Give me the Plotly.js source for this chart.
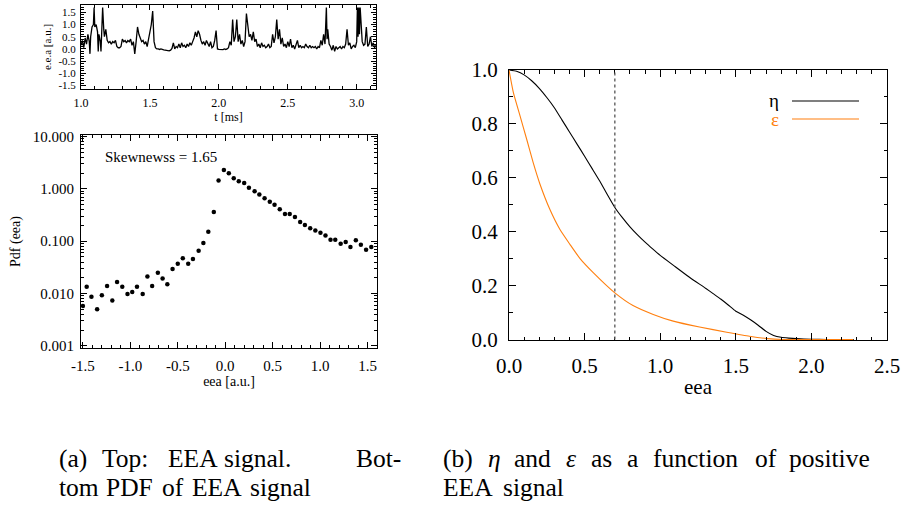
<!DOCTYPE html>
<html>
<head>
<meta charset="utf-8">
<script src="https://cdn.plot.ly/plotly-3.0.1.min.js"></script>
<style>
html,body{margin:0;padding:0;background:#fff;}
#chart{width:901px;height:508px;}
</style>
</head>
<body>
<div id="chart"></div>
<script>
// ---------- Top panel: EEA time signal ----------
const sigT = [1.00,1.01,1.02,1.03,1.04,1.05,1.06,1.065,1.07,1.08,1.09,1.095,1.10,1.11,1.12,1.125,1.13,1.14,1.145,1.15,1.157,1.165,1.17,1.18,1.19,
1.20,1.21,1.22,1.23,1.24,1.25,1.26,1.27,1.28,1.29,1.30,1.31,1.32,1.33,1.34,1.35,1.36,1.37,1.38,1.39,1.40,1.41,1.42,1.43,1.44,1.45,1.46,1.47,1.48,1.49,
1.50,1.51,1.52,1.53,1.54,1.55,1.56,1.57,1.58,1.59,1.60,1.61,1.62,1.63,1.64,1.65,1.66,1.67,1.68,1.69,1.70,1.71,1.72,1.73,1.74,1.75,1.76,1.77,1.78,1.79,
1.80,1.81,1.82,1.83,1.84,1.85,1.86,1.87,1.88,1.89,1.90,1.91,1.92,1.93,1.94,1.95,1.96,1.97,1.98,1.99,
2.00,2.01,2.02,2.03,2.04,2.05,2.06,2.07,2.08,2.09,2.10,2.11,2.12,2.13,2.14,2.15,2.16,2.17,2.18,2.19,
2.20,2.21,2.22,2.23,2.24,2.25,2.26,2.27,2.28,2.29,2.30,2.31,2.32,2.33,2.34,2.35,2.36,2.37,2.38,2.39,
2.40,2.41,2.42,2.43,2.44,2.45,2.46,2.47,2.48,2.49,2.50,2.51,2.52,2.53,2.54,2.55,2.56,2.57,2.58,2.59,
2.60,2.61,2.62,2.63,2.64,2.65,2.66,2.67,2.68,2.69,2.70,2.71,2.72,2.73,2.74,2.75,2.76,2.77,2.78,2.785,2.79,
2.80,2.81,2.82,2.83,2.84,2.85,2.86,2.87,2.88,2.89,2.90,2.91,2.92,2.93,2.94,2.95,2.96,2.97,2.98,2.99,
3.00,3.005,3.01,3.015,3.02,3.025,3.03,3.04,3.05,3.06,3.07,3.08,3.09,3.10,3.11,3.12,3.13,3.14];
const sigV = [0.15,0.35,0.05,0.45,0.20,0.60,0.30,-0.20,0.50,0.90,1.00,1.70,0.90,1.00,0.70,-0.10,0.60,0.30,-0.10,0.50,1.70,0.80,0.50,0.80,0.35,
0.25,0.30,0.20,0.30,0.25,0.35,0.10,0.05,0.05,0.10,0.40,0.30,0.35,0.25,0.35,0.30,0.40,0.15,0.30,-0.20,0.30,0.90,0.60,0.45,0.30,0.35,0.20,0.30,0.10,0.40,
0.70,1.00,1.55,0.30,0.05,0.00,0.00,-0.02,0.00,-0.03,-0.04,-0.05,-0.06,-0.04,-0.08,-0.05,0.02,0.25,0.00,0.10,0.05,0.20,0.05,0.25,0.10,0.15,0.05,0.20,0.10,0.25,
0.15,0.30,0.45,0.70,0.50,0.75,0.60,0.35,0.20,0.30,0.15,0.35,0.20,0.10,0.30,0.05,0.10,0.35,0.75,0.00,
-0.02,-0.03,-0.02,-0.03,0.00,-0.02,0.00,0.05,0.30,0.15,1.20,0.30,0.50,1.20,0.30,0.60,0.20,0.35,0.10,0.30,
1.45,0.80,0.50,0.60,0.35,0.70,0.30,0.40,0.10,0.20,0.05,0.25,0.10,0.15,0.05,0.10,0.20,0.05,0.10,0.60,
0.25,0.50,1.20,0.40,0.80,0.20,0.45,0.10,0.20,0.05,0.30,0.10,0.40,0.05,0.15,0.00,0.20,0.35,0.05,0.15,
0.05,0.10,0.05,0.20,0.10,0.05,0.15,0.05,0.10,0.05,0.10,0.00,0.10,0.05,0.35,0.15,0.60,0.20,1.70,0.40,0.80,
0.20,0.10,-0.05,0.15,-0.10,0.10,0.00,0.05,0.10,0.00,0.10,0.05,0.20,0.80,0.15,0.25,0.00,0.10,0.15,0.05,
0.30,1.70,0.50,1.70,0.60,1.70,1.00,0.30,0.15,0.20,0.90,0.10,0.20,0.50,0.10,0.25,0.05,0.15];
const sigYTickVals = [-1.5,-1.0,-0.5,0.0,0.5,1.0,1.5];
const sigYTickText = ["-1.5","-1.0","-0.5","0.0","0.5","1.0","1.5"];
const sigXTickVals = [1.0,1.5,2.0,2.5,3.0];
const sigXTickText = ["1.0","1.5","2.0","2.5","3.0"];

// ---------- Bottom-left panel: PDF of EEA ----------
const pdfX = [-1.50,-1.46,-1.41,-1.35,-1.30,-1.245,-1.19,-1.14,-1.085,-1.03,-0.98,-0.93,-0.87,-0.82,-0.77,-0.71,-0.66,-0.61,-0.555,-0.50,-0.447,-0.39,-0.34,-0.28,-0.23,-0.178,-0.12,-0.07,-0.014,
0.038,0.09,0.143,0.20,0.25,0.31,0.36,0.415,0.47,0.52,0.575,0.63,0.68,0.735,0.79,0.84,0.896,0.95,1.004,1.057,1.11,1.16,1.217,1.27,1.32,1.377,1.43,1.485,1.54];
const pdfY = [0.0058,0.0135,0.0087,0.0050,0.0093,0.0140,0.0074,0.0166,0.0135,0.0098,0.0107,0.0135,0.0098,0.0213,0.0140,0.0250,0.0195,0.0150,0.0295,0.0370,0.0475,0.0370,0.0460,0.0660,0.0930,0.152,0.36,1.45,2.30,
2.00,1.60,1.40,1.30,1.05,0.90,0.78,0.66,0.57,0.50,0.41,0.33,0.33,0.29,0.234,0.205,0.177,0.160,0.145,0.129,0.107,0.107,0.090,0.097,0.078,0.104,0.086,0.069,0.078];
const skewText = "Skewnewss = 1.65";
const pdfYTickVals = [0.001,0.01,0.1,1,10];
const pdfYTickText = ["0.001","0.010","0.100","1.000","10.000"];
const pdfXTickVals = [-1.5,-1.0,-0.5,0.0,0.5,1.0,1.5];
const pdfXTickText = ["-1.5","-1.0","-0.5","0.0","0.5","1.0","1.5"];

// ---------- Right panel: eta and epsilon ----------
const etaX = [0,0.05,0.1,0.15,0.2,0.25,0.3,0.35,0.4,0.45,0.5,0.55,0.6,0.65,0.7,0.75,0.8,0.85,0.9,0.95,1.0,1.1,1.2,1.3,1.35,1.4,1.45,1.5,1.55,1.6,1.65,1.7,1.75,1.8,1.85,1.9,2.0,2.1,2.28];
const etaY = [1.0,0.995,0.982,0.96,0.932,0.898,0.86,0.815,0.77,0.725,0.68,0.634,0.588,0.538,0.49,0.452,0.418,0.388,0.361,0.336,0.312,0.27,0.228,0.19,0.17,0.15,0.128,0.105,0.09,0.072,0.052,0.03,0.015,0.008,0.005,0.003,0.001,0.0,0.0];
const epsX = [0.0,0.029,0.073,0.117,0.16,0.205,0.27,0.337,0.403,0.47,0.557,0.70,0.82,0.954,1.086,1.26,1.44,1.59,1.71,1.81,2.275];
const epsY = [1.0,0.916,0.83,0.743,0.656,0.576,0.483,0.408,0.353,0.30,0.248,0.173,0.126,0.093,0.068,0.046,0.027,0.012,0.003,0.0,0.0];
const thresholdEea = 0.7;
const rightXTickVals = [0,0.5,1.0,1.5,2.0,2.5];
const rightXTickText = ["0.0","0.5","1.0","1.5","2.0","2.5"];
const rightYTickVals = [0,0.2,0.4,0.6,0.8,1.0];
const rightYTickText = ["0.0","0.2","0.4","0.6","0.8","1.0"];
const legendNames = ["η","ε"];
const lineColors = ["#000000","#ff7f0e"];

// ---------- Captions (words of each justified line) ----------
const captionA1 = ["(a)","Top:","EEA","signal.","Bot-"];
const captionA2 = ["tom","PDF","of","EEA","signal"];
const captionB1 = ["(b)","<i>η</i>","and","<i>ε</i>","as","a","function","of","positive"];
const captionB2 = ["EEA","signal"];

// ---------- helpers ----------
const W = 901, H = 508;
const px = v => v / W;
const py = v => 1 - v / H;
const FONT = "Liberation Serif";

const logMinor = [];
for (let e = -3; e <= 1; e++) for (let m = 2; m <= 9; m++) logMinor.push(m * Math.pow(10, e));

function frameAxis(extra) {
  return Object.assign({
    showline: true, linecolor: "#000", linewidth: 1, mirror: "allticks",
    ticks: "inside", tickcolor: "#000", tickwidth: 1,
    showgrid: false, zeroline: false, tickmode: "array", fixedrange: true
  }, extra);
}

const traces = [
  {x: sigT, y: sigV, xaxis: "x", yaxis: "y", type: "scatter", mode: "lines",
   line: {color: "#000", width: 1.3}, showlegend: false, hoverinfo: "skip"},
  {x: pdfX, y: pdfY, xaxis: "x2", yaxis: "y2", type: "scatter", mode: "markers",
   marker: {color: "#000", size: 4.5}, showlegend: false, hoverinfo: "skip"},
  {x: etaX, y: etaY, xaxis: "x3", yaxis: "y3", type: "scatter", mode: "lines", name: legendNames[0],
   line: {color: lineColors[0], width: 1.1, shape: "spline", smoothing: 0.4}, showlegend: false},
  {x: epsX, y: epsY, xaxis: "x3", yaxis: "y3", type: "scatter", mode: "lines", name: legendNames[1],
   line: {color: lineColors[1], width: 1.1, shape: "spline", smoothing: 0.5}, showlegend: false}
];

// caption word layout (left x positions in pixels, line centre y)
const capLayout = [
  {words: captionA1, xs: [57,100,166,222,354], y: 458},
  {words: captionA2, xs: [57,104,160,190,248], y: 487},
  {words: captionB1, xs: [441,486,512,564,589,625,651,753,787], y: 458},
  {words: captionB2, xs: [441,501], y: 487}
];
const capAnns = [];
capLayout.forEach(line => line.words.forEach((w, i) => capAnns.push({
  xref: "paper", yref: "paper", x: px(line.xs[i]), y: py(line.y), xanchor: "left", yanchor: "middle",
  text: w, showarrow: false, font: {size: 25.5, family: FONT, color: "#000"}
})));

const layout = {
  width: W, height: H,
  margin: {l: 0, r: 0, t: 0, b: 0},
  paper_bgcolor: "#fff", plot_bgcolor: "#fff",
  font: {family: FONT, color: "#000"},
  showlegend: false,
  xaxis: frameAxis({
    domain: [px(81), px(376)], anchor: "y", range: [1.0, 3.14],
    tickvals: sigXTickVals, ticktext: sigXTickText, ticklen: 5,
    minor: {tickmode: "linear", tick0: 1.0, dtick: 0.1, ticks: "inside", ticklen: 3, tickcolor: "#000"},
    tickfont: {size: 12, family: FONT}, ticklabelstandoff: 3,
    title: {text: "t [ms]", font: {size: 12, family: FONT}, standoff: 2}
  }),
  yaxis: frameAxis({
    domain: [py(89), py(5)], anchor: "x", range: [-1.64, 1.8],
    tickvals: sigYTickVals, ticktext: sigYTickText, ticklen: 5,
    minor: {tickmode: "linear", tick0: 0, dtick: 0.1, ticks: "inside", ticklen: 3, tickcolor: "#000"},
    tickfont: {size: 11, family: FONT}, ticklabelstandoff: 2,
    title: {text: "e.e.a [a.u.]", font: {size: 11, family: FONT}, standoff: 4}
  }),
  xaxis2: frameAxis({
    domain: [px(81), px(377)], anchor: "y2", range: [-1.52, 1.6],
    tickvals: pdfXTickVals, ticktext: pdfXTickText, ticklen: 6,
    minor: {tickmode: "linear", tick0: 0, dtick: 0.1, ticks: "inside", ticklen: 3, tickcolor: "#000"},
    tickfont: {size: 15, family: FONT}, ticklabelstandoff: 4,
    title: {text: "eea [a.u.]", font: {size: 14, family: FONT}, standoff: 2}
  }),
  yaxis2: frameAxis({
    domain: [py(348), py(135)], anchor: "x2", type: "log", range: [-3.04, 1.03],
    tickvals: pdfYTickVals, ticktext: pdfYTickText, ticklen: 6,
    minor: {tickmode: "array", tickvals: logMinor, ticks: "inside", ticklen: 3, tickcolor: "#000"},
    tickfont: {size: 15, family: FONT}, ticklabelstandoff: 3,
    title: {text: "Pdf (eea)", font: {size: 14, family: FONT}, standoff: 8}
  }),
  xaxis3: frameAxis({
    domain: [px(509), px(887)], anchor: "y3", range: [0, 2.5],
    tickvals: rightXTickVals, ticktext: rightXTickText, ticklen: 7,
    minor: {tickmode: "linear", tick0: 0, dtick: 0.1, ticks: "inside", ticklen: 3.5, tickcolor: "#000"},
    tickfont: {size: 21, family: FONT}, ticklabelstandoff: 7,
    title: {text: "eea", font: {size: 21, family: FONT}, standoff: 2}
  }),
  yaxis3: frameAxis({
    domain: [py(340), py(70)], anchor: "x3", range: [-0.002, 1.0],
    tickvals: rightYTickVals, ticktext: rightYTickText, ticklen: 7,
    minor: {tickmode: "linear", tick0: 0, dtick: 0.1, ticks: "inside", ticklen: 3.5, tickcolor: "#000"},
    tickfont: {size: 21, family: FONT}, ticklabelstandoff: 6
  }),
  shapes: [
    {type: "line", xref: "x3", yref: "y3", x0: thresholdEea, x1: thresholdEea, y0: 0, y1: 1,
     line: {color: "#555", width: 1.3, dash: "dot"}},
    {type: "line", xref: "paper", yref: "paper", x0: px(792), x1: px(859), y0: py(101), y1: py(101),
     line: {color: lineColors[0], width: 1.1}},
    {type: "line", xref: "paper", yref: "paper", x0: px(792), x1: px(859), y0: py(119), y1: py(119),
     line: {color: lineColors[1], width: 1.1}}
  ],
  annotations: [
    {xref: "paper", yref: "paper", x: px(103), y: py(157), xanchor: "left", yanchor: "middle",
     text: skewText, showarrow: false, font: {size: 15, family: FONT}},
    {xref: "paper", yref: "paper", x: px(781), y: py(101), xanchor: "right", yanchor: "middle",
     text: legendNames[0], showarrow: false, font: {size: 19, family: FONT, color: lineColors[0]}},
    {xref: "paper", yref: "paper", x: px(781), y: py(119), xanchor: "right", yanchor: "middle",
     text: legendNames[1], showarrow: false, font: {size: 19, family: FONT, color: lineColors[1]}}
  ].concat(capAnns)
};

Plotly.newPlot("chart", traces, layout, {staticPlot: true, displayModeBar: false});
</script>
</body>
</html>
